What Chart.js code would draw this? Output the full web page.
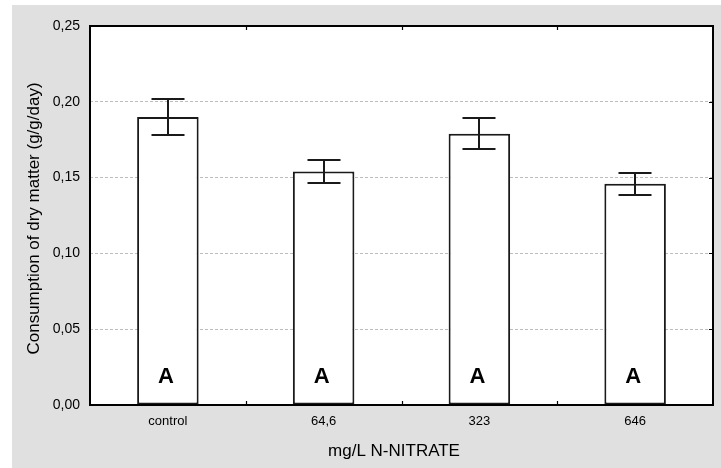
<!DOCTYPE html>
<html>
<head>
<meta charset="utf-8">
<script src="https://cdn.jsdelivr.net/npm/chart.js@4/dist/chart.umd.min.js"></script>
<style>
  html, body { margin: 0; padding: 0; background: #ffffff; }
  canvas { display: block; }
</style>
</head>
<body>
<canvas id="c" width="721" height="468"></canvas>
<script>
const categories = ['control', '64,6', '323', '646'];
const means = [0.190, 0.154, 0.179, 0.146];
const errors = [0.012, 0.0076, 0.010, 0.0073];
const letters = ['A', 'A', 'A', 'A'];
const yMin = 0, yMax = 0.25, yStep = 0.05;
const xTitle = 'mg/L N-NITRATE';
const yTitle = 'Consumption of dry matter (g/g/day)';

const FONT = '"Liberation Sans", Arial, sans-serif';

const decor = {
  id: 'decor',
  beforeDraw(chart) {
    const ctx = chart.ctx;
    ctx.save();
    ctx.fillStyle = '#ffffff';
    ctx.fillRect(0, 0, chart.width, chart.height);
    ctx.fillStyle = '#e0e0e0';
    ctx.fillRect(12, 5, chart.width - 12, chart.height - 5);
    const a = chart.chartArea;
    ctx.fillStyle = '#ffffff';
    ctx.fillRect(a.left, a.top, a.right - a.left, a.bottom - a.top);
    ctx.restore();
  },
  afterDatasetsDraw(chart) {
    const ctx = chart.ctx;
    const a = chart.chartArea;
    const xs = chart.scales.x, ys = chart.scales.y;
    ctx.save();
    // error bars
    ctx.strokeStyle = '#1a1a1a';
    ctx.lineWidth = 2;
    const cap = 16.5;
    means.forEach((m, i) => {
      const x = Math.round(xs.getPixelForValue(i));
      const yt = Math.round(ys.getPixelForValue(m + errors[i]));
      const yb = Math.round(ys.getPixelForValue(m - errors[i]));
      ctx.beginPath();
      ctx.moveTo(x, yt); ctx.lineTo(x, yb);
      ctx.moveTo(x - cap, yt); ctx.lineTo(x + cap, yt);
      ctx.moveTo(x - cap, yb); ctx.lineTo(x + cap, yb);
      ctx.stroke();
    });
    // letters
    ctx.fillStyle = '#000';
    ctx.font = 'bold 22px ' + FONT;
    ctx.textAlign = 'center';
    ctx.textBaseline = 'middle';
    letters.forEach((t, i) => {
      const x = xs.getPixelForValue(i);
      ctx.fillText(t, x - 2, a.bottom - 28);
    });
    // plot border
    ctx.strokeStyle = '#000';
    ctx.lineWidth = 2;
    ctx.strokeRect(a.left, a.top, a.right - a.left, a.bottom - a.top);
    // inward ticks at category boundaries (top & bottom)
    ctx.lineWidth = 1.2;
    ctx.beginPath();
    for (let i = 0; i < categories.length - 1; i++) {
      const x = Math.round((xs.getPixelForValue(i) + xs.getPixelForValue(i + 1)) / 2) + 0.5;
      ctx.moveTo(x, a.bottom); ctx.lineTo(x, a.bottom - 4);
      ctx.moveTo(x, a.top); ctx.lineTo(x, a.top + 4);
    }
    // inward ticks on right side
    for (let v = yMin + yStep; v < yMax - 1e-9; v += yStep) {
      const y = Math.round(ys.getPixelForValue(v)) + 0.5;
      ctx.moveTo(a.right, y); ctx.lineTo(a.right - 4, y);
    }
    ctx.stroke();
    // titles
    ctx.fillStyle = '#000';
    ctx.font = '17px ' + FONT;
    ctx.textAlign = 'center';
    ctx.textBaseline = 'middle';
    ctx.fillText(xTitle, 394, 451);
    ctx.translate(34, (a.top + a.bottom) / 2 + 3);
    ctx.rotate(-Math.PI / 2);
    ctx.fillText(yTitle, 0, 0);
    ctx.restore();
  }
};

new Chart(document.getElementById('c'), {
  type: 'bar',
  data: {
    labels: categories,
    datasets: [{
      data: means,
      backgroundColor: '#ffffff',
      borderColor: '#1a1a1a',
      borderWidth: 2,
      borderSkipped: false,
      barPercentage: 0.395,
      categoryPercentage: 1.0
    }]
  },
  options: {
    responsive: false,
    animation: false,
    devicePixelRatio: 1,
    layout: { padding: { left: 0, top: 26, right: 8, bottom: 0 } },
    plugins: { legend: { display: false }, tooltip: { enabled: false } },
    scales: {
      x: {
        grid: { display: false, drawTicks: false },
        border: { display: false },
        ticks: { color: '#000', font: { family: FONT, size: 13 }, padding: 9 },
        afterFit(s) { s.height = 63; }
      },
      y: {
        min: yMin, max: yMax,
        grid: {
          drawTicks: false,
          color: (c) => (c.tick && (Math.abs(c.tick.value - yMin) < 1e-9 || Math.abs(c.tick.value - yMax) < 1e-9)) ? 'rgba(0,0,0,0)' : '#bdbdbd',
          lineWidth: 1
        },
        border: { display: false, dash: [3, 2] },
        ticks: {
          stepSize: yStep,
          color: '#000',
          font: { family: FONT, size: 14 },
          padding: 10,
          callback: (v) => Number(v).toFixed(2).replace('.', ',')
        },
        afterFit(s) { s.width = 90; }
      }
    }
  },
  plugins: [decor]
});
</script>
</body>
</html>
